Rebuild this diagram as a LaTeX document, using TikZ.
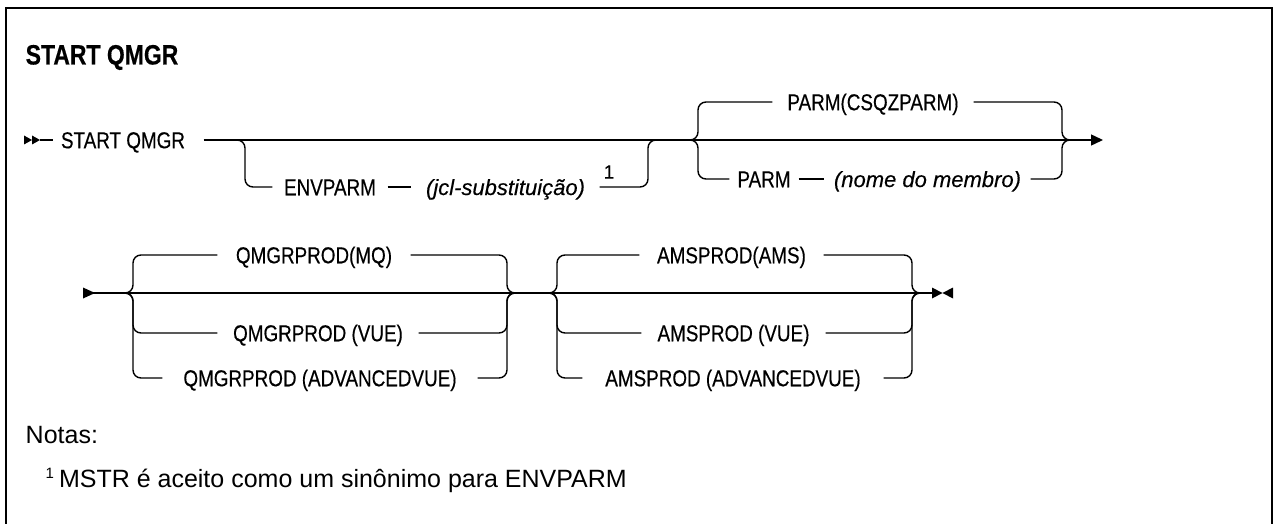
\documentclass[tikz,border=0pt]{standalone}
\usepackage{fontspec}
\setmainfont{Liberation Sans}
\newfontfamily\diagfont[FakeStretch=0.82,FakeBold=0.35]{Liberation Sans}
\newfontfamily\diagitfont[FakeBold=0.35]{Liberation Sans}
\usetikzlibrary{arrows.meta}
\begin{document}
\begin{tikzpicture}[x=1pt,y=-1pt,line width=1.4pt]
\tikzset{
  kw/.style={font=\diagfont\fontsize{23}{23}\selectfont, inner sep=0pt, text height=16.5pt, text depth=0pt},
  var/.style={font=\diagitfont\fontsize{22}{22}\selectfont\itshape, inner sep=0pt, text height=16pt, text depth=0pt},
  rr/.style={rounded corners=8pt},
  tip/.style={fill=black, draw=none},
}
\useasboundingbox (0,0) rectangle (1274,524);
% frame (open at the bottom)
\draw[line width=2.2pt] (6,524) -- (6,8) -- (1272,8) -- (1272,524);

% title
\node[anchor=west, font=\diagfont\bfseries\fontsize{28}{28}\selectfont, inner sep=0pt, text height=20pt, text depth=0pt] (title) at (25,54.5) {START QMGR};

% ---------- row 1 ----------
\coordinate (s1) at (24,140);
\fill[tip] (24,135.5) -- (32,140) -- (24,144.5) -- cycle;
\fill[tip] (32,135.5) -- (40,140) -- (32,144.5) -- cycle;
\coordinate (s1b) at (40,140);
\coordinate (s1c) at (53,140);
\draw (s1b) -- (s1c);

\node[kw, minimum width=160pt] (sq) at (123,140) {START QMGR};
\coordinate (e1) at (1103,140);
\draw[-{Triangle[length=12pt,width=11pt]}] (sq.east) -- (e1);

% ENVPARM optional branch
\node[kw, minimum width=114pt] (envp) at (330,187) {ENVPARM};
\node[var, minimum width=187pt] (jcl) at (505.5,187) {(jcl-substituição)};
\node[font=\diagitfont\fontsize{19}{19}\selectfont, inner sep=0pt] (fn1) at (609,172) {1};
\coordinate (ea) at (233,140);
\coordinate (ev) at (245,187);
\coordinate (eb) at (648,140);
\coordinate (ec) at (657,140);
\draw[rr] (ea) -| (ev) -- (envp.west);
\draw (envp.east) -- (jcl.west);
\draw[rr] (jcl.east) -| (eb) -- (ec);

% PARM choice
\node[kw, minimum width=200pt] (parmdef) at (873,102) {PARM(CSQZPARM)};
\node[kw, minimum width=68pt] (parm) at (764,179) {PARM};
\node[var, minimum width=205pt] (nome) at (927.5,179) {(nome do membro)};
\coordinate (pa) at (690,140);
\coordinate (pvt) at (698,102);
\coordinate (pvb) at (698,179);
\coordinate (pr) at (1062,140);
\coordinate (pz) at (1070,140);
\draw[rr] (pa) -| (pvt) -- (parmdef.west);
\draw[rr] (parmdef.east) -| (pr) -- (pz);
\draw[rr] (pa) -| (pvb) -- (parm.west);
\draw (parm.east) -- (nome.west);
\draw[rr] (nome.east) -| (pr) -- (pz);

% ---------- row 2 ----------
\coordinate (s2) at (83,293);
\fill[tip] (83,287.5) -- (95,293) -- (83,298.5) -- cycle;
\coordinate (e2) at (932,293);
\draw (s2) -- (e2);
\fill[tip] (932,287.5) -- (942.5,293) -- (932,298.5) -- cycle;
\fill[tip] (953,287.5) -- (942.5,293) -- (953,298.5) -- cycle;

% QMGRPROD choice
\node[kw, minimum width=192pt] (mq) at (314,255) {QMGRPROD(MQ)};
\node[kw, minimum width=200pt] (qvue) at (318,333) {QMGRPROD (VUE)};
\node[kw, minimum width=314pt] (qadv) at (320,378) {QMGRPROD (ADVANCEDVUE)};
\coordinate (qa) at (125,293);
\coordinate (qz) at (515,293);
\draw[rr] (qa) -| (133,255) -- (mq.west);
\draw[rr] (qa) -| (133,333) -- (qvue.west);
\draw[rr] (qa) -| (133,378) -- (qadv.west);
\draw[rr] (mq.east) -| (507,293) -- (qz);
\draw[rr] (qvue.east) -| (507,293) -- (qz);
\draw[rr] (qadv.east) -| (507,293) -- (qz);

% AMSPROD choice
\node[kw, minimum width=183pt] (ams) at (731.5,255) {AMSPROD(AMS)};
\node[kw, minimum width=183pt] (avue) at (733.5,333) {AMSPROD (VUE)};
\node[kw, minimum width=300pt] (aadv) at (733,378) {AMSPROD (ADVANCEDVUE)};
\coordinate (aa) at (548,293);
\coordinate (az) at (920,293);
\draw[rr] (aa) -| (557,255) -- (ams.west);
\draw[rr] (aa) -| (557,333) -- (avue.west);
\draw[rr] (aa) -| (557,378) -- (aadv.west);
\draw[rr] (ams.east) -| (912,293) -- (az);
\draw[rr] (avue.east) -| (912,293) -- (az);
\draw[rr] (aadv.east) -| (912,293) -- (az);

% ---------- notes ----------
\node[anchor=west, font=\fontsize{25}{25}\selectfont, inner sep=0pt, text height=18pt, text depth=0pt] (notas) at (25,434) {Notas:};
\node[anchor=west, font=\fontsize{25}{25}\selectfont, inner sep=0pt, text height=18pt, text depth=0pt] (note1) at (45,478.5) {\raisebox{9pt}{\fontsize{15}{15}\selectfont 1}\hspace{5pt}MSTR é aceito como um sinônimo para ENVPARM};
\end{tikzpicture}
\end{document}
